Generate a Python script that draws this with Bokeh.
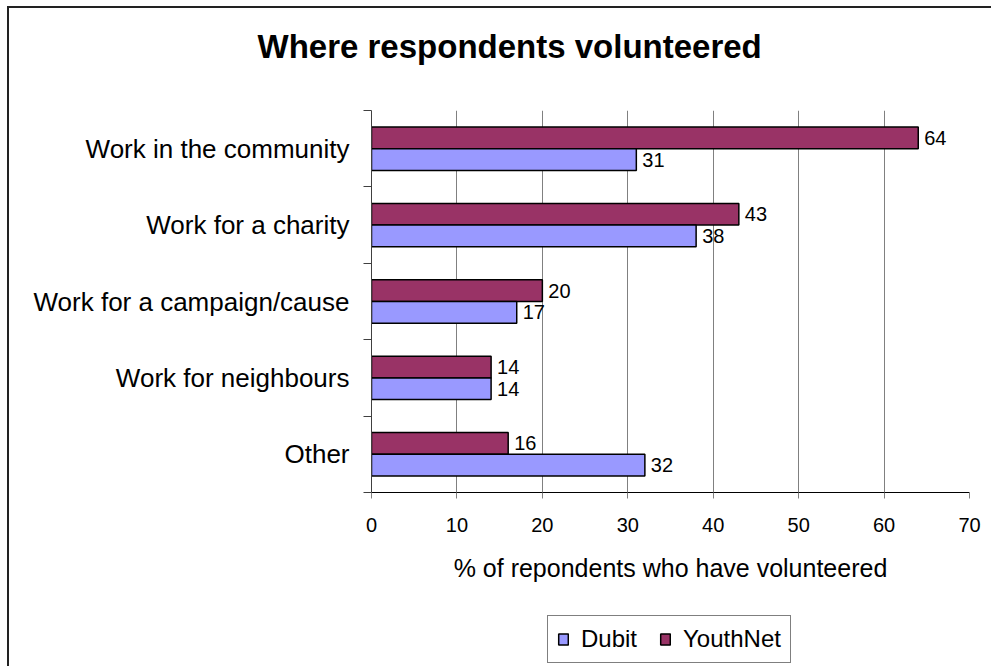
from bokeh.plotting import figure
from bokeh.layouts import column
from bokeh.models import (Range1d, FixedTicker, Legend, LegendItem,
                          ColumnDataSource, Title)
from bokeh.core.properties import value
from bokeh.embed import file_html
from bokeh.resources import INLINE

# ---- data -------------------------------------------------------------
categories = ["Work in the community", "Work for a charity",
              "Work for a campaign/cause", "Work for neighbours", "Other"]
dubit = [31, 38, 17, 14, 32]
youthnet = [64, 43, 20, 14, 16]
x_ticks = [0, 10, 20, 30, 40, 50, 60, 70]
series_names = ["Dubit", "YouthNet"]

title_text = "Where respondents volunteered"
x_title = "% of repondents who have volunteered"

FONT = "Liberation Sans"
DUBIT_COLOR = "#9999FF"
YOUTH_COLOR = "#993366"

n = len(categories)
centers = [n - i - 0.5 for i in range(n)]
bar_h = 0.284

src = ColumnDataSource(dict(
    cat=categories,
    dubit=dubit,
    youthnet=youthnet,
    y_dubit=[c - bar_h / 2 for c in centers],
    y_youth=[c + bar_h / 2 for c in centers],
    lab_dubit=[str(v) for v in dubit],
    lab_youth=[str(v) for v in youthnet],
))

W = 982
p = figure(width=W, height=600,
           x_range=Range1d(0, 70), y_range=Range1d(0, n),
           output_backend="svg", toolbar_location=None,
           min_border_left=362, min_border_right=22,
           min_border_top=102, min_border_bottom=116,
           background_fill_color="white", border_fill_color="white")
p.outline_line_color = None

# spacer between the title and the plot area
p.add_layout(Title(text=" ", text_font_size="10px", standoff=28), "above")

# title
p.title.text = title_text
p.title.text_font = FONT
p.title.text_font_size = "33px"
p.title.text_font_style = "bold"
p.title.text_color = "black"
p.title.align = "left"
p.title.offset = -114
p.title.standoff = 10

# bars
r_y = p.hbar(y="y_youth", right="youthnet", left=0, height=bar_h, source=src,
             fill_color=YOUTH_COLOR, line_color="black", line_width=1.5)
r_d = p.hbar(y="y_dubit", right="dubit", left=0, height=bar_h, source=src,
             fill_color=DUBIT_COLOR, line_color="black", line_width=1.5)

# value labels
p.text(x="youthnet", y="y_youth", text="lab_youth", source=src,
       x_offset=6, text_align="left", text_baseline="middle",
       text_font=value(FONT), text_font_size="20px", text_color="black")
p.text(x="dubit", y="y_dubit", text="lab_dubit", source=src,
       x_offset=6, text_align="left", text_baseline="middle",
       text_font=value(FONT), text_font_size="20px", text_color="black")

# x axis
xa = p.xaxis[0]
xa.ticker = FixedTicker(ticks=x_ticks)
xa.axis_line_color = "black"
xa.major_tick_line_color = "#808080"
xa.major_tick_out = 6
xa.major_tick_in = 0
xa.minor_tick_line_color = None
xa.major_label_text_font = FONT
xa.major_label_text_font_size = "20px"
xa.major_label_text_color = "black"
xa.major_label_standoff = 19
xa.axis_label = x_title
xa.axis_label_text_font = FONT
xa.axis_label_text_font_size = "25px"
xa.axis_label_text_font_style = "normal"
xa.axis_label_text_color = "black"
xa.axis_label_standoff = 19

# y axis
ya = p.yaxis[0]
ya.ticker = FixedTicker(ticks=centers, minor_ticks=list(range(n + 1)))
ya.major_label_overrides = {c: lab for c, lab in zip(centers, categories)}
ya.axis_line_color = "#404040"
ya.major_tick_line_color = None
ya.major_tick_out = 0
ya.major_tick_in = 0
ya.minor_tick_line_color = "#404040"
ya.minor_tick_out = 8
ya.minor_tick_in = 0
ya.major_label_text_font = FONT
ya.major_label_text_font_size = "26px"
ya.major_label_text_color = "black"
ya.major_label_standoff = 14

# grid
p.xgrid.ticker = FixedTicker(ticks=x_ticks)
p.xgrid.grid_line_color = "#808080"
p.xgrid.grid_line_width = 1
p.ygrid.grid_line_color = None

# ---- legend strip (second figure below the chart) ----------------------
p2 = figure(width=W, height=58, x_range=Range1d(0, 1), y_range=Range1d(0, 1),
            output_backend="svg", toolbar_location=None,
            x_axis_type=None, y_axis_type=None, min_border=0,
            background_fill_color="white", border_fill_color="white")
p2.outline_line_color = None
p2.grid.grid_line_color = None
# legend proxies (hidden; they only lend their style to the legend swatches)
l_d = p2.hbar(y="y_dubit", right="dubit", height=bar_h, source=src,
              fill_color=DUBIT_COLOR, line_color="black", line_width=1.5,
              visible=False)
l_y = p2.hbar(y="y_youth", right="youthnet", height=bar_h, source=src,
              fill_color=YOUTH_COLOR, line_color="black", line_width=1.5,
              visible=False)

legend = Legend(items=[LegendItem(label=series_names[0], renderers=[l_d]),
                       LegendItem(label=series_names[1], renderers=[l_y])],
                orientation="horizontal",
                location=(176, 3),
                label_text_font=FONT, label_text_font_size="24px",
                label_text_color="black",
                glyph_width=12, glyph_height=14,
                label_standoff=12, spacing=22, padding=9, margin=0,
                inactive_fill_alpha=0,
                border_line_color="black", border_line_width=1,
                background_fill_color="white", background_fill_alpha=1)
p2.add_layout(legend, "center")

layout = column(p, p2, spacing=0,
                styles={"margin-left": "7px", "margin-top": "6px",
                        "border-left": "2px solid #222",
                        "border-top": "2px solid #222",
                        "gap": "0px"})

open("out.html", "w").write(file_html(layout, INLINE))
